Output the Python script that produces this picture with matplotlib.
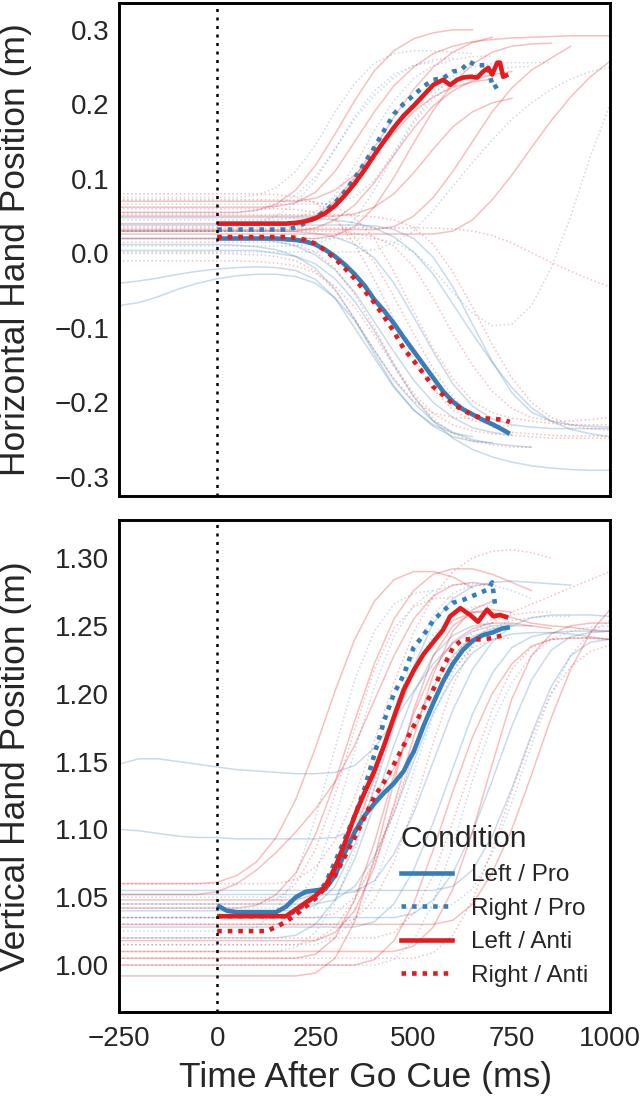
import numpy as np
import matplotlib
matplotlib.use("Agg")
import matplotlib.pyplot as plt
from matplotlib.lines import Line2D

plt.rcParams['font.family'] = ['Liberation Sans', 'DejaVu Sans']

# ---------------- data ----------------
conditions = ["Left / Pro", "Right / Pro", "Left / Anti", "Right / Anti"]
trial_times = [-250, -200, -150, -100, -50, 0, 50, 100, 150, 200, 250, 300, 350,
               400, 450, 500, 550, 600, 650, 700, 750, 800, 850, 900, 950, 1000]
xticks = [-250, 0, 250, 500, 750, 1000]
yticks_top = [-0.3, -0.2, -0.1, 0.0, 0.1, 0.2, 0.3]
yticks_bot = [1.00, 1.05, 1.10, 1.15, 1.20, 1.25, 1.30]

# individual trials: (baseline, number of samples held at baseline, following samples)
horiz_left_pro = [
    (0.020, 7, [0.019, 0.016, 0.010, -0.002, -0.022, -0.052, -0.092, -0.132, -0.170, -0.200, -0.220, -0.234, -0.240, -0.244]),
    (0.0, 0, [-0.070, -0.066, -0.058, -0.048, -0.040, -0.034, -0.030, -0.028, -0.028, -0.031, -0.040, -0.060, -0.090, -0.130, -0.170, -0.200, -0.225, -0.240, -0.250, -0.255, -0.258, -0.260]),
    (0.0, 0, [-0.040, -0.037, -0.033, -0.028, -0.024, -0.021, -0.019, -0.018, -0.019, -0.023, -0.035, -0.060, -0.100, -0.140, -0.180, -0.210, -0.232, -0.246, -0.252, -0.254]),
    (0.048, 10, [0.047, 0.045, 0.041, 0.034, 0.022, 0.002, -0.028, -0.068, -0.108, -0.146, -0.180, -0.207, -0.225, -0.236, -0.242, -0.246]),
    (0.004, 8, [0.000, -0.004, -0.014, -0.034, -0.064, -0.104, -0.150, -0.192, -0.225, -0.248, -0.263, -0.273, -0.280, -0.285, -0.288, -0.290, -0.291, -0.291]),
    (0.030, 9, [0.029, 0.027, 0.022, 0.012, -0.006, -0.040, -0.085, -0.132, -0.175, -0.205, -0.222, -0.230, -0.233, -0.235, -0.235, -0.235, -0.235]),
    (0.012, 6, [0.011, 0.009, 0.005, -0.004, -0.020, -0.048, -0.088, -0.135, -0.178, -0.210, -0.230, -0.241, -0.246]),
    (0.038, 13, [0.037, 0.032, 0.020, -0.005, -0.045, -0.095, -0.145, -0.187, -0.213, -0.225, -0.230, -0.232, -0.233]),
]
horiz_right_anti = [
    (0.080, 8, [0.079, 0.076, 0.068, 0.048, 0.012, -0.035, -0.088, -0.140, -0.182, -0.210, -0.224, -0.230, -0.232]),
    (0.060, 9, [0.059, 0.055, 0.044, 0.022, -0.012, -0.058, -0.108, -0.155, -0.193, -0.218, -0.233, -0.240, -0.242, -0.244, -0.245, -0.245, -0.245]),
    (0.000, 6, [-0.001, -0.002, -0.004, -0.010, -0.024, -0.050, -0.088, -0.130, -0.168, -0.198, -0.214, -0.220, -0.222, -0.223]),
    (0.030, 11, [0.029, 0.027, 0.022, 0.010, -0.018, -0.060, -0.108, -0.150, -0.185, -0.208, -0.220, -0.225, -0.225, -0.223, -0.220]),
    (0.034, 17, [0.033, 0.030, 0.024, 0.014, 0.001, -0.012, -0.024, -0.035, -0.045]),
    (0.072, 9, [0.071, 0.069, 0.063, 0.048, 0.020, -0.025, -0.078, -0.128, -0.168, -0.198, -0.214, -0.221, -0.225, -0.228, -0.230, -0.230, -0.230]),
    (-0.010, 7, [-0.011, -0.013, -0.017, -0.026, -0.044, -0.072, -0.110, -0.152, -0.192, -0.222, -0.242, -0.252, -0.257, -0.260, -0.260]),
    (0.052, 12, [0.051, 0.049, 0.045, 0.035, 0.012, -0.025, -0.072, -0.122, -0.167, -0.200, -0.220, -0.230, -0.235, -0.237]),
    (0.015, 9, [0.012, 0.002, -0.020, -0.055, -0.100, -0.148, -0.188, -0.215, -0.230, -0.238, -0.242, -0.244, -0.246, -0.248, -0.248, -0.248, -0.248]),
]
horiz_left_anti = [
    (0.040, 9, [0.042, 0.050, 0.070, 0.102, 0.142, 0.183, 0.220, 0.250, 0.270, 0.283, 0.290]),
    (0.062, 8, [0.063, 0.068, 0.082, 0.110, 0.150, 0.190, 0.225, 0.250, 0.268, 0.278, 0.284, 0.287, 0.289, 0.290, 0.291, 0.292, 0.292, 0.292]),
    (0.030, 10, [0.034, 0.045, 0.065, 0.095, 0.132, 0.168, 0.198, 0.218, 0.232, 0.240, 0.244]),
    (0.032, 14, [0.036, 0.050, 0.075, 0.110, 0.150, 0.190, 0.222, 0.246, 0.262, 0.278]),
    (0.026, 17, [0.030, 0.045, 0.072, 0.105, 0.142, 0.178, 0.210, 0.237, 0.258]),
    (0.070, 10, [0.074, 0.085, 0.105, 0.132, 0.162, 0.190, 0.210, 0.223, 0.230, 0.234]),
    (0.020, 11, [0.024, 0.036, 0.062, 0.102, 0.148, 0.192, 0.228, 0.254, 0.270, 0.278, 0.281, 0.282]),
    (0.050, 12, [0.053, 0.062, 0.080, 0.108, 0.140, 0.170, 0.190, 0.202, 0.208]),
    (0.055, 7, [0.058, 0.066, 0.085, 0.118, 0.160, 0.205, 0.245, 0.272, 0.288, 0.296, 0.300, 0.300]),
]
horiz_right_pro = [
    (0.030, 8, [0.031, 0.036, 0.050, 0.078, 0.118, 0.165, 0.205, 0.235, 0.252, 0.260, 0.264, 0.265]),
    (0.055, 7, [0.057, 0.063, 0.078, 0.103, 0.140, 0.180, 0.212, 0.236, 0.252, 0.260, 0.262]),
    (0.010, 10, [0.013, 0.022, 0.045, 0.085, 0.132, 0.175, 0.207, 0.228, 0.240, 0.246, 0.250, 0.251]),
    (0.020, 14, [0.015, 0.002, -0.022, -0.052, -0.080, -0.097, -0.095, -0.070, -0.020, 0.050, 0.130, 0.200]),
    (0.045, 9, [0.048, 0.056, 0.074, 0.100, 0.134, 0.168, 0.198, 0.218, 0.230, 0.236, 0.240]),
    (0.066, 11, [0.068, 0.076, 0.098, 0.136, 0.178, 0.213, 0.238, 0.250, 0.255, 0.256, 0.256, 0.256]),
    (0.002, 13, [0.005, 0.014, 0.030, 0.058, 0.090, 0.122, 0.152, 0.180, 0.202, 0.220, 0.234, 0.244, 0.250]),
    (0.036, 6, [0.037, 0.041, 0.050, 0.068, 0.098, 0.140, 0.184, 0.218, 0.240, 0.252, 0.257]),
    (0.075, 7, [0.078, 0.088, 0.110, 0.145, 0.190, 0.228, 0.255, 0.268, 0.272, 0.272, 0.270, 0.268]),
]

vert_left_pro = [
    (0.0, 0, [1.148, 1.152, 1.152, 1.150, 1.148, 1.146, 1.144, 1.143, 1.142, 1.141, 1.141, 1.142, 1.147, 1.160, 1.180, 1.202, 1.222, 1.237, 1.246, 1.250, 1.251]),
    (0.0, 0, [1.100, 1.099, 1.097, 1.095, 1.094, 1.094, 1.093, 1.093, 1.093, 1.093, 1.093, 1.094, 1.100, 1.118, 1.145, 1.175, 1.205, 1.228, 1.242, 1.248, 1.250, 1.250]),
    (1.045, 11, [1.048, 1.058, 1.080, 1.112, 1.150, 1.186, 1.212, 1.230, 1.240, 1.244, 1.245, 1.245, 1.244, 1.242, 1.240]),
    (1.052, 12, [1.054, 1.062, 1.082, 1.112, 1.150, 1.188, 1.218, 1.238, 1.250, 1.256, 1.258, 1.258, 1.258, 1.257]),
    (1.035, 15, [1.038, 1.048, 1.068, 1.098, 1.136, 1.176, 1.210, 1.232, 1.242, 1.245, 1.246]),
    (1.020, 9, [1.022, 1.030, 1.048, 1.078, 1.118, 1.162, 1.200, 1.228, 1.243, 1.250, 1.252]),
    (1.040, 10, [1.044, 1.058, 1.088, 1.130, 1.176, 1.220, 1.252, 1.270, 1.279, 1.282, 1.283, 1.282, 1.281, 1.280]),
    (1.055, 17, [1.058, 1.070, 1.095, 1.130, 1.170, 1.205, 1.228, 1.238, 1.240]),
    (1.028, 13, [1.032, 1.045, 1.070, 1.105, 1.145, 1.185, 1.215, 1.234, 1.242, 1.245, 1.246, 1.246, 1.246]),
]
vert_left_anti = [
    (0.992, 10, [0.994, 1.005, 1.032, 1.078, 1.135, 1.188, 1.228, 1.250, 1.260, 1.262, 1.260]),
    (1.060, 5, [1.061, 1.066, 1.076, 1.094, 1.122, 1.160, 1.202, 1.240, 1.268, 1.284, 1.290, 1.290, 1.286, 1.278]),
    (1.042, 7, [1.044, 1.052, 1.068, 1.096, 1.135, 1.180, 1.222, 1.255, 1.276, 1.288, 1.292, 1.292, 1.288, 1.282, 1.276]),
    (1.010, 15, [1.014, 1.028, 1.056, 1.098, 1.148, 1.196, 1.228, 1.244, 1.250, 1.252, 1.252]),
    (1.030, 17, [1.033, 1.045, 1.068, 1.100, 1.140, 1.182, 1.218, 1.245, 1.262]),
    (1.048, 10, [1.052, 1.068, 1.098, 1.138, 1.180, 1.215, 1.240, 1.254, 1.260, 1.260, 1.256, 1.252, 1.250, 1.249, 1.247, 1.246]),
    (1.018, 11, [1.024, 1.040, 1.072, 1.118, 1.168, 1.214, 1.246, 1.262, 1.268]),
    (1.000, 13, [1.004, 1.018, 1.045, 1.085, 1.128, 1.168, 1.200, 1.222, 1.235, 1.240, 1.241, 1.241, 1.240]),
    (1.052, 5, [1.054, 1.060, 1.070, 1.083, 1.098, 1.115, 1.135, 1.162, 1.195, 1.228, 1.255, 1.272, 1.280, 1.282, 1.280]),
    (1.005, 10, [1.008, 1.020, 1.048, 1.090, 1.140, 1.185, 1.218, 1.238, 1.248, 1.252, 1.252, 1.250, 1.248]),
]
vert_right_pro = [
    (1.035, 8, [1.037, 1.045, 1.068, 1.108, 1.158, 1.205, 1.242, 1.265, 1.276, 1.280, 1.281, 1.280]),
    (1.010, 9, [1.013, 1.024, 1.046, 1.084, 1.132, 1.180, 1.218, 1.243, 1.258, 1.264, 1.265]),
    (1.050, 10, [1.054, 1.066, 1.094, 1.138, 1.186, 1.228, 1.258, 1.274, 1.280, 1.280, 1.276, 1.270]),
    (1.000, 14, [1.004, 1.018, 1.046, 1.088, 1.136, 1.178, 1.208, 1.228, 1.240, 1.246, 1.249, 1.250]),
    (1.025, 7, [1.028, 1.040, 1.066, 1.108, 1.160, 1.210, 1.246, 1.266, 1.274, 1.276]),
    (1.042, 17, [1.045, 1.056, 1.082, 1.120, 1.162, 1.200, 1.228, 1.245, 1.254]),
    (1.015, 11, [1.020, 1.034, 1.060, 1.098, 1.142, 1.184, 1.216, 1.237, 1.248, 1.254, 1.256, 1.257, 1.257]),
]
vert_right_anti = [
    (1.060, 9, [1.063, 1.072, 1.092, 1.124, 1.165, 1.208, 1.245, 1.272, 1.290, 1.300, 1.305, 1.306, 1.304, 1.300]),
    (1.015, 10, [1.018, 1.028, 1.048, 1.078, 1.116, 1.155, 1.192, 1.218, 1.234, 1.240, 1.241]),
    (1.005, 16, [1.009, 1.022, 1.048, 1.085, 1.128, 1.168, 1.200, 1.220, 1.231, 1.236]),
    (1.030, 12, [1.034, 1.048, 1.076, 1.116, 1.164, 1.206, 1.236, 1.252, 1.260, 1.266, 1.272, 1.278, 1.284, 1.290]),
    (1.045, 8, [1.048, 1.060, 1.085, 1.125, 1.174, 1.218, 1.248, 1.264, 1.270, 1.271]),
    (1.020, 14, [1.024, 1.038, 1.066, 1.106, 1.148, 1.188, 1.218, 1.234, 1.240, 1.241, 1.241, 1.240]),
    (1.035, 11, [1.038, 1.050, 1.075, 1.112, 1.155, 1.195, 1.226, 1.245, 1.255, 1.258, 1.260, 1.260]),
]

# condition means (time in ms, position in m)
hm_lp_t = [0, 50, 100, 150, 175, 200, 225, 250, 275, 300, 325, 350, 375, 400, 425, 450, 475, 500, 525, 550, 575, 600, 625, 650, 675, 700, 725, 745]
hm_lp_y = [0.020, 0.020, 0.020, 0.020, 0.019, 0.018, 0.016, 0.012, 0.005, -0.004, -0.015, -0.028, -0.043, -0.062, -0.077, -0.094, -0.113, -0.131, -0.149, -0.167, -0.185, -0.199, -0.209, -0.216, -0.223, -0.229, -0.236, -0.242]
hm_rp_t = [0, 50, 100, 150, 175, 200, 225, 250, 275, 300, 325, 350, 375, 400, 425, 450, 475, 500, 525, 550, 575, 600, 620, 642, 662, 687, 695, 703, 726]
hm_rp_y = [0.032, 0.032, 0.032, 0.032, 0.032, 0.035, 0.041, 0.048, 0.057, 0.068, 0.083, 0.101, 0.121, 0.142, 0.165, 0.187, 0.201, 0.212, 0.224, 0.233, 0.235, 0.244, 0.246, 0.257, 0.252, 0.253, 0.237, 0.222, 0.229]
hm_la_t = [0, 50, 100, 150, 175, 200, 225, 250, 275, 300, 325, 350, 375, 400, 425, 450, 475, 500, 525, 550, 575, 593, 611, 626, 644, 662, 677, 690, 700, 713, 720, 728, 741]
hm_la_y = [0.040, 0.040, 0.040, 0.040, 0.040, 0.041, 0.043, 0.047, 0.054, 0.064, 0.078, 0.094, 0.112, 0.132, 0.151, 0.169, 0.185, 0.198, 0.212, 0.226, 0.233, 0.226, 0.233, 0.236, 0.237, 0.236, 0.244, 0.249, 0.240, 0.256, 0.256, 0.237, 0.240]
hm_ra_t = [0, 50, 100, 150, 175, 200, 225, 250, 275, 300, 325, 350, 375, 400, 425, 450, 475, 500, 525, 550, 575, 600, 625, 650, 675, 700, 725, 745]
hm_ra_y = [0.022, 0.022, 0.022, 0.022, 0.022, 0.021, 0.018, 0.013, 0.004, -0.007, -0.020, -0.034, -0.050, -0.066, -0.085, -0.105, -0.128, -0.144, -0.161, -0.179, -0.190, -0.202, -0.210, -0.217, -0.221, -0.222, -0.223, -0.226]

vm_lp_t = [0, 25, 50, 100, 150, 175, 200, 225, 250, 275, 300, 325, 350, 375, 400, 425, 450, 475, 490, 500, 525, 550, 575, 600, 625, 650, 675, 700, 725, 745]
vm_lp_y = [1.044, 1.040, 1.039, 1.039, 1.039, 1.043, 1.050, 1.054, 1.055, 1.056, 1.066, 1.083, 1.098, 1.110, 1.119, 1.127, 1.134, 1.143, 1.152, 1.157, 1.176, 1.193, 1.209, 1.222, 1.232, 1.239, 1.243, 1.245, 1.248, 1.249]
vm_rp_t = [0, 50, 100, 150, 175, 200, 225, 250, 275, 300, 325, 350, 375, 400, 425, 450, 475, 500, 525, 550, 575, 600, 625, 650, 675, 690, 700, 704, 708]
vm_rp_y = [1.036, 1.036, 1.036, 1.036, 1.036, 1.040, 1.045, 1.051, 1.060, 1.076, 1.093, 1.110, 1.130, 1.155, 1.180, 1.200, 1.214, 1.234, 1.243, 1.254, 1.261, 1.267, 1.269, 1.272, 1.275, 1.277, 1.282, 1.273, 1.264]
vm_la_t = [0, 50, 100, 150, 175, 200, 225, 250, 275, 300, 325, 350, 375, 400, 425, 450, 475, 500, 525, 550, 575, 593, 619, 644, 664, 687, 703, 720, 741]
vm_la_y = [1.036, 1.036, 1.036, 1.036, 1.036, 1.041, 1.046, 1.051, 1.058, 1.072, 1.090, 1.110, 1.127, 1.143, 1.162, 1.183, 1.203, 1.217, 1.229, 1.238, 1.247, 1.257, 1.263, 1.258, 1.253, 1.262, 1.257, 1.258, 1.256]
vm_ra_t = [0, 50, 100, 125, 150, 175, 200, 225, 250, 275, 300, 325, 350, 375, 400, 425, 450, 475, 500, 525, 550, 575, 600, 625, 650, 675, 700, 726]
vm_ra_y = [1.025, 1.025, 1.025, 1.025, 1.028, 1.032, 1.037, 1.043, 1.049, 1.057, 1.066, 1.080, 1.094, 1.109, 1.124, 1.135, 1.148, 1.162, 1.176, 1.189, 1.203, 1.219, 1.234, 1.240, 1.240, 1.240, 1.241, 1.243]

# ---------------- styling ----------------
BLUE = '#377eb8'
RED = '#e41a1c'
TXT = '#262626'
styles = {
    "Left / Pro": (BLUE, '-'),
    "Right / Pro": (BLUE, ':'),
    "Left / Anti": (RED, '-'),
    "Right / Anti": (RED, ':'),
}

def trial_series(spec):
    base, n_flat, rest = spec
    vals = [base] * n_flat + list(rest)
    vals = vals + [np.nan] * (len(trial_times) - len(vals))
    return np.array(vals, dtype=float)

fig = plt.figure(figsize=(6.44, 11.0), dpi=100)
ax1 = fig.add_axes([119/644, 1 - 496/1100, 491/644, 493/1100])
ax2 = fig.add_axes([119/644, 1 - 1012/1100, 491/644, 492/1100])

panels = [
    (ax1, {"Left / Pro": horiz_left_pro, "Right / Pro": horiz_right_pro,
           "Left / Anti": horiz_left_anti, "Right / Anti": horiz_right_anti},
     {"Left / Pro": (hm_lp_t, hm_lp_y), "Right / Pro": (hm_rp_t, hm_rp_y),
      "Left / Anti": (hm_la_t, hm_la_y), "Right / Anti": (hm_ra_t, hm_ra_y)}),
    (ax2, {"Left / Pro": vert_left_pro, "Right / Pro": vert_right_pro,
           "Left / Anti": vert_left_anti, "Right / Anti": vert_right_anti},
     {"Left / Pro": (vm_lp_t, vm_lp_y), "Right / Pro": (vm_rp_t, vm_rp_y),
      "Left / Anti": (vm_la_t, vm_la_y), "Right / Anti": (vm_ra_t, vm_ra_y)}),
]

t_arr = np.array(trial_times, dtype=float)
for ax, trials, means in panels:
    for cond in conditions:
        col, ls = styles[cond]
        for spec in trials[cond]:
            ax.plot(t_arr, trial_series(spec), color=col, linestyle=ls,
                    linewidth=1.1, alpha=0.28, zorder=2)
    for cond in conditions:
        col, ls = styles[cond]
        mt, my = means[cond]
        if ls == ':':
            ax.plot(mt, my, color=col, linewidth=3.3, linestyle=(0, (1, 1.3)),
                    dash_capstyle='butt', zorder=5)
        else:
            ax.plot(mt, my, color=col, linewidth=3.3, linestyle='-',
                    solid_capstyle='butt', zorder=5)
    ax.axvline(0, color='black', linestyle=(0, (1.2, 2.2)), linewidth=1.8, zorder=6)
    ax.set_xlim(-250, 1000)
    ax.set_xticks(xticks)
    for sp in ax.spines.values():
        sp.set_color('black')
        sp.set_linewidth(2.1)
    ax.tick_params(axis='y', length=0, pad=7, labelsize=20, colors=TXT)
    ax.tick_params(axis='x', length=0, pad=10, labelsize=20, colors=TXT)
    ax.set_facecolor('white')

ax1.set_ylim(-0.3255, 0.336)
ax1.set_yticks(yticks_top)
ax1.set_yticklabels([f"{v:.1f}".replace('-', '\u2212') for v in yticks_top])
ax1.set_xticklabels([])

ax2.set_ylim(0.9654, 1.328)
ax2.set_yticks(yticks_bot)
ax2.set_yticklabels([f"{v:.2f}" for v in yticks_bot])
ax2.set_xticklabels([f"{v}".replace('-', '\u2212') for v in xticks])

fig.text(16/644, 1 - 250/1100, "Horizontal Hand Position (m)", rotation=90,
         ha='center', va='center', fontsize=25.5, color=TXT)
fig.text(16/644, 1 - 766/1100, "Vertical Hand Position (m)", rotation=90,
         ha='center', va='center', fontsize=25.5, color=TXT)
fig.text(366/644, 1 - 1077/1100, "Time After Go Cue (ms)",
         ha='center', va='center', fontsize=25.5, color=TXT)

handles = []
for cond in conditions:
    col, ls = styles[cond]
    if ls == ':':
        handles.append(Line2D([], [], color=col, linewidth=3.3, linestyle=(0, (1, 1.3))))
    else:
        handles.append(Line2D([], [], color=col, linewidth=3.3, linestyle='-'))
leg = ax2.legend(handles, conditions, title="Condition", loc='upper left',
                 bbox_to_anchor=(0.574, 0.380), frameon=False, fontsize=17.5,
                 title_fontsize=21.5, borderpad=0, borderaxespad=0,
                 handlelength=2.1, handletextpad=0.8, labelspacing=0.47,
                 alignment='left')
for txt in leg.get_texts():
    txt.set_color(TXT)
leg.get_title().set_color(TXT)

fig.savefig("out.png", dpi=100, facecolor='white')
